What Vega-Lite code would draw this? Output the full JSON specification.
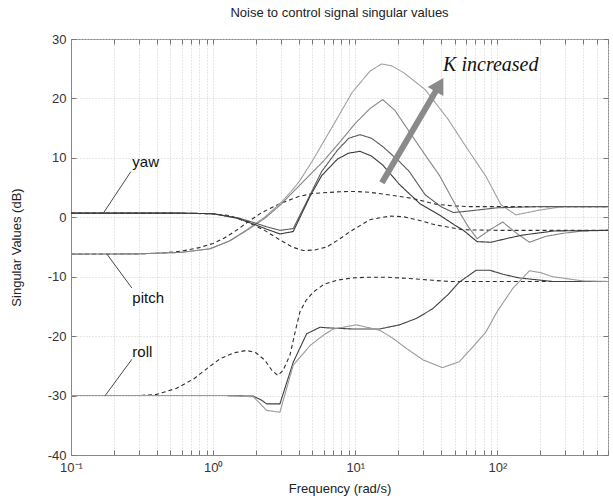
{
  "$schema": "https://vega.github.io/schema/vega-lite/v6.json",
  "width": 537,
  "height": 416,
  "autosize": "none",
  "padding": {"left": 71, "top": 39, "right": 5, "bottom": 46},
  "background": "white",
  "title": {"text": "Noise to control signal singular values", "font": "Liberation Sans", "fontSize": 13, "fontWeight": "normal", "color": "#222", "offset": 13, "anchor": "middle"},
  "config": {
    "view": {"stroke": "#888"},
    "axis": {"labelFont": "Liberation Sans", "titleFont": "Liberation Sans", "labelFontSize": 13, "titleFontSize": 13, "titleFontWeight": "normal", "labelColor": "#333", "titleColor": "#222", "domainColor": "#888", "tickColor": "#777", "gridColor": "#cfcfcf", "gridDash": [1, 2], "gridWidth": 1}
  },
  "resolve": {"axis": {"x": "independent", "y": "independent"}},
  "datasets": {
    "curves": [
      {"c":"D1","f":0.1,"db":-6.2},{"c":"D1","f":0.2,"db":-6.2},{"c":"D1","f":0.3,"db":-6.15},{"c":"D1","f":0.42,"db":-6.05},{"c":"D1","f":0.6,"db":-5.7},{"c":"D1","f":0.8,"db":-5.1},{"c":"D1","f":1,"db":-4.4},{"c":"D1","f":1.2,"db":-3.5},{"c":"D1","f":1.5,"db":-2.0},{"c":"D1","f":1.75,"db":-0.8},{"c":"D1","f":2.2,"db":0.8},{"c":"D1","f":2.95,"db":2.3},{"c":"D1","f":4,"db":3.5},{"c":"D1","f":5,"db":4.0},{"c":"D1","f":7.8,"db":4.3},{"c":"D1","f":10,"db":4.35},{"c":"D1","f":12.7,"db":4.2},{"c":"D1","f":17,"db":3.8},{"c":"D1","f":25,"db":3.2},{"c":"D1","f":37,"db":2.2},{"c":"D1","f":50,"db":1.9},{"c":"D1","f":64,"db":1.8},{"c":"D1","f":100,"db":1.8},{"c":"D1","f":600,"db":1.8},
      {"c":"D2","f":0.1,"db":0.7},{"c":"D2","f":0.5,"db":0.7},{"c":"D2","f":0.95,"db":0.6},{"c":"D2","f":1.3,"db":0.3},{"c":"D2","f":1.72,"db":-0.75},{"c":"D2","f":2.3,"db":-2.2},{"c":"D2","f":2.95,"db":-3.8},{"c":"D2","f":3.6,"db":-5.0},{"c":"D2","f":4.3,"db":-5.6},{"c":"D2","f":5.2,"db":-5.5},{"c":"D2","f":6.3,"db":-5.0},{"c":"D2","f":7.7,"db":-3.7},{"c":"D2","f":9.2,"db":-2.4},{"c":"D2","f":12.7,"db":-0.4},{"c":"D2","f":17.5,"db":0.2},{"c":"D2","f":21.7,"db":0.1},{"c":"D2","f":28,"db":-0.5},{"c":"D2","f":37,"db":-1.3},{"c":"D2","f":57,"db":-2.1},{"c":"D2","f":100,"db":-2.2},{"c":"D2","f":600,"db":-2.2},
      {"c":"D3","f":0.1,"db":-30},{"c":"D3","f":0.3,"db":-30},{"c":"D3","f":0.4,"db":-29.8},{"c":"D3","f":0.55,"db":-28.8},{"c":"D3","f":0.73,"db":-27.2},{"c":"D3","f":0.9,"db":-25.5},{"c":"D3","f":1.12,"db":-23.8},{"c":"D3","f":1.4,"db":-22.8},{"c":"D3","f":1.72,"db":-22.4},{"c":"D3","f":2.0,"db":-22.8},{"c":"D3","f":2.3,"db":-24.0},{"c":"D3","f":2.6,"db":-25.8},{"c":"D3","f":2.85,"db":-26.6},{"c":"D3","f":3.1,"db":-25.8},{"c":"D3","f":3.47,"db":-23.2},{"c":"D3","f":3.8,"db":-19},{"c":"D3","f":4.08,"db":-15.9},{"c":"D3","f":4.5,"db":-14},{"c":"D3","f":5.05,"db":-12.6},{"c":"D3","f":6,"db":-11.3},{"c":"D3","f":7.4,"db":-10.6},{"c":"D3","f":9.5,"db":-10.2},{"c":"D3","f":12,"db":-10.1},{"c":"D3","f":17,"db":-10.1},{"c":"D3","f":24,"db":-10.3},{"c":"D3","f":35,"db":-10.6},{"c":"D3","f":46,"db":-10.8},{"c":"D3","f":600,"db":-10.8},
      {"c":"R1","f":0.1,"db":-30},{"c":"R1","f":1.25,"db":-30},{"c":"R1","f":1.92,"db":-30.1},{"c":"R1","f":2.2,"db":-30.8},{"c":"R1","f":2.38,"db":-31.4},{"c":"R1","f":2.95,"db":-31.4},{"c":"R1","f":3.66,"db":-24.4},{"c":"R1","f":4.55,"db":-19.6},{"c":"R1","f":5.65,"db":-18.5},{"c":"R1","f":6.3,"db":-18.6},{"c":"R1","f":9.6,"db":-18.8},{"c":"R1","f":14.8,"db":-18.8},{"c":"R1","f":20.5,"db":-18.1},{"c":"R1","f":27,"db":-17},{"c":"R1","f":35,"db":-15.4},{"c":"R1","f":45,"db":-13},{"c":"R1","f":54,"db":-10.9},{"c":"R1","f":71,"db":-8.9},{"c":"R1","f":88,"db":-8.9},{"c":"R1","f":110,"db":-9.6},{"c":"R1","f":142,"db":-10.2},{"c":"R1","f":244,"db":-10.8},{"c":"R1","f":600,"db":-10.8},
      {"c":"R2","f":0.1,"db":-30},{"c":"R2","f":1.25,"db":-30},{"c":"R2","f":1.92,"db":-30.2},{"c":"R2","f":2.38,"db":-32.5},{"c":"R2","f":2.95,"db":-32.8},{"c":"R2","f":3.66,"db":-24.9},{"c":"R2","f":4.8,"db":-21.6},{"c":"R2","f":6,"db":-19.8},{"c":"R2","f":7,"db":-18.8},{"c":"R2","f":10.2,"db":-18.1},{"c":"R2","f":14.8,"db":-19.0},{"c":"R2","f":18,"db":-20.2},{"c":"R2","f":23,"db":-22.1},{"c":"R2","f":30,"db":-24},{"c":"R2","f":41,"db":-25.3},{"c":"R2","f":54,"db":-24.3},{"c":"R2","f":66,"db":-22},{"c":"R2","f":83,"db":-19.3},{"c":"R2","f":100,"db":-15.8},{"c":"R2","f":128,"db":-12.0},{"c":"R2","f":168,"db":-9.0},{"c":"R2","f":200,"db":-9.3},{"c":"R2","f":245,"db":-10.0},{"c":"R2","f":398,"db":-10.7},{"c":"R2","f":600,"db":-10.8},
      {"c":"K4","f":0.1,"db":-6.2},{"c":"K4","f":0.3,"db":-6.15},{"c":"K4","f":0.6,"db":-5.9},{"c":"K4","f":0.95,"db":-5.3},{"c":"K4","f":1.3,"db":-4.0},{"c":"K4","f":1.7,"db":-2.2},{"c":"K4","f":2.3,"db":0},{"c":"K4","f":2.95,"db":2.3},{"c":"K4","f":3.5,"db":4.2},{"c":"K4","f":4.03,"db":6},{"c":"K4","f":5,"db":9.5},{"c":"K4","f":7,"db":15.5},{"c":"K4","f":9.5,"db":21},{"c":"K4","f":12.7,"db":24.6},{"c":"K4","f":15.3,"db":25.8},{"c":"K4","f":18,"db":25.5},{"c":"K4","f":22,"db":24.3},{"c":"K4","f":31,"db":21.5},{"c":"K4","f":45,"db":16.5},{"c":"K4","f":60,"db":11.9},{"c":"K4","f":83,"db":6.9},{"c":"K4","f":106,"db":2.1},{"c":"K4","f":135,"db":0.4},{"c":"K4","f":197,"db":1.2},{"c":"K4","f":289,"db":1.8},{"c":"K4","f":600,"db":1.8},
      {"c":"K3","f":0.1,"db":-6.2},{"c":"K3","f":0.3,"db":-6.15},{"c":"K3","f":0.6,"db":-5.9},{"c":"K3","f":0.95,"db":-5.3},{"c":"K3","f":1.3,"db":-4.0},{"c":"K3","f":1.7,"db":-2.3},{"c":"K3","f":2.3,"db":-0.2},{"c":"K3","f":2.95,"db":2.0},{"c":"K3","f":4.3,"db":6},{"c":"K3","f":6,"db":9.5},{"c":"K3","f":8,"db":13},{"c":"K3","f":10,"db":15.8},{"c":"K3","f":12.7,"db":18.3},{"c":"K3","f":15.6,"db":19.8},{"c":"K3","f":19,"db":18},{"c":"K3","f":24,"db":14.4},{"c":"K3","f":31,"db":10.5},{"c":"K3","f":39,"db":7.1},{"c":"K3","f":54,"db":0.9},{"c":"K3","f":62,"db":-1.5},{"c":"K3","f":72,"db":-3.6},{"c":"K3","f":90,"db":-2.0},{"c":"K3","f":109,"db":-0.8},{"c":"K3","f":135,"db":-2.6},{"c":"K3","f":168,"db":-4.2},{"c":"K3","f":220,"db":-3.2},{"c":"K3","f":289,"db":-2.7},{"c":"K3","f":400,"db":-2.3},{"c":"K3","f":600,"db":-2.2},
      {"c":"K2","f":0.1,"db":0.7},{"c":"K2","f":0.6,"db":0.7},{"c":"K2","f":1.0,"db":0.6},{"c":"K2","f":1.5,"db":-0.1},{"c":"K2","f":2.0,"db":-1.0},{"c":"K2","f":2.38,"db":-1.6},{"c":"K2","f":2.95,"db":-2.2},{"c":"K2","f":3.66,"db":-1.9},{"c":"K2","f":4.55,"db":2.6},{"c":"K2","f":5.8,"db":7.7},{"c":"K2","f":7.5,"db":11.3},{"c":"K2","f":9,"db":13.3},{"c":"K2","f":10.8,"db":13.9},{"c":"K2","f":13,"db":13.3},{"c":"K2","f":15.6,"db":11.9},{"c":"K2","f":20,"db":9.6},{"c":"K2","f":24,"db":7.7},{"c":"K2","f":31,"db":3.8},{"c":"K2","f":40,"db":1.8},{"c":"K2","f":49,"db":0.8},{"c":"K2","f":60,"db":1.0},{"c":"K2","f":100,"db":1.6},{"c":"K2","f":200,"db":1.8},{"c":"K2","f":600,"db":1.8},
      {"c":"K1","f":0.1,"db":0.7},{"c":"K1","f":0.6,"db":0.7},{"c":"K1","f":1.0,"db":0.6},{"c":"K1","f":1.5,"db":-0.2},{"c":"K1","f":2.0,"db":-1.3},{"c":"K1","f":2.38,"db":-2.0},{"c":"K1","f":2.95,"db":-2.8},{"c":"K1","f":3.66,"db":-2.4},{"c":"K1","f":4.8,"db":3.5},{"c":"K1","f":5.8,"db":7.0},{"c":"K1","f":7.5,"db":9.8},{"c":"K1","f":9,"db":10.8},{"c":"K1","f":10.8,"db":11.1},{"c":"K1","f":13,"db":10.3},{"c":"K1","f":15.6,"db":8.8},{"c":"K1","f":20.5,"db":5.5},{"c":"K1","f":28.5,"db":2.3},{"c":"K1","f":39,"db":0.4},{"c":"K1","f":50,"db":-1.3},{"c":"K1","f":57,"db":-2.1},{"c":"K1","f":72,"db":-4.1},{"c":"K1","f":90,"db":-4.2},{"c":"K1","f":120,"db":-3.5},{"c":"K1","f":150,"db":-3.0},{"c":"K1","f":250,"db":-2.3},{"c":"K1","f":600,"db":-2.2}
    ],
    "leaders": [
      {"lab":"yaw","f":0.169,"db":0.7},{"lab":"yaw","f":0.264,"db":7.7},
      {"lab":"pitch","f":0.179,"db":-6.2},{"lab":"pitch","f":0.268,"db":-11.9},
      {"lab":"roll","f":0.174,"db":-30},{"lab":"roll","f":0.268,"db":-23.9}
    ],
    "labels": [
      {"lab":"yaw","f":0.27,"db":8.4},
      {"lab":"pitch","f":0.27,"db":-14.4},
      {"lab":"roll","f":0.27,"db":-23.5}
    ],
    "arrow": [{"f1":15.4,"db1":5.8,"f2":37.6,"db2":21.6,"fh":39.1,"dbh":22.3}],
    "note": [{"txt":"K increased","f":41.5,"db":24.6}]
  },
  "layer": [
    {
      "data": {"name": "curves"},
      "mark": {"type": "line", "strokeWidth": 1.1, "interpolate": "linear"},
      "encoding": {
        "x": {"field": "f", "type": "quantitative",
          "scale": {"type": "log", "domain": [0.1, 600], "nice": false},
          "axis": {"orient": "bottom", "values": [0.1,0.2,0.3,0.4,0.5,0.6,0.7,0.8,0.9,1,2,3,4,5,6,7,8,9,10,20,30,40,50,60,70,80,90,100,200,300,400,500,600],
            "labelExpr": "datum.value == 0.1 ? '10⁻¹' : datum.value == 1 ? '10⁰' : datum.value == 10 ? '10¹' : datum.value == 100 ? '10²' : ''",
            "grid": true, "tickSize": -5, "labelPadding": 11, "labelFlush": false, "labelOverlap": false,
            "title": "Frequency (rad/s)", "titlePadding": 8}},
        "y": {"field": "db", "type": "quantitative",
          "scale": {"domain": [-40, 30], "nice": false},
          "axis": {"orient": "left", "values": [-40,-30,-20,-10,0,10,20,30], "grid": true, "tickSize": -5, "labelPadding": 10,
            "labelExpr": "replace(datum.label, '−', '-')",
            "title": "Singular Values (dB)", "titlePadding": 24}},
        "detail": {"field": "c"},
        "color": {"field": "c", "type": "nominal", "legend": null,
          "scale": {"domain": ["D1","D2","D3","K1","K2","K3","K4","R1","R2"],
            "range": ["#2e2e2e","#2e2e2e","#2e2e2e","#3a3a3a","#5a5a5a","#858585","#a0a0a0","#404040","#9a9a9a"]}},
        "strokeDash": {"field": "c", "type": "nominal", "legend": null,
          "scale": {"domain": ["D1","D2","D3","K1","K2","K3","K4","R1","R2"],
            "range": [[4,3],[4,3],[4,3],[1,0],[1,0],[1,0],[1,0],[1,0],[1,0]]}}
      }
    },
    {
      "data": {"name": "leaders"},
      "mark": {"type": "line", "color": "#333", "strokeWidth": 0.9},
      "encoding": {
        "x": {"field": "f", "type": "quantitative", "axis": {"orient": "top", "values": [0.1,0.2,0.3,0.4,0.5,0.6,0.7,0.8,0.9,1,2,3,4,5,6,7,8,9,10,20,30,40,50,60,70,80,90,100,200,300,400,500,600], "labels": false, "grid": false, "tickSize": -5, "title": null, "domain": false}},
        "y": {"field": "db", "type": "quantitative", "axis": {"orient": "right", "values": [-40,-30,-20,-10,0,10,20,30], "labels": false, "grid": false, "tickSize": -5, "title": null, "domain": false}},
        "detail": {"field": "lab"}
      }
    },
    {
      "data": {"name": "labels"},
      "mark": {"type": "text", "font": "Liberation Sans", "fontSize": 15, "align": "left", "baseline": "alphabetic", "color": "#111"},
      "encoding": {
        "x": {"field": "f", "type": "quantitative", "axis": null},
        "y": {"field": "db", "type": "quantitative", "axis": null},
        "text": {"field": "lab"}
      }
    },
    {
      "data": {"name": "arrow"},
      "mark": {"type": "rule", "color": "#8a8a8a", "strokeWidth": 6},
      "encoding": {
        "x": {"field": "f1", "type": "quantitative", "axis": null},
        "y": {"field": "db1", "type": "quantitative", "axis": null},
        "x2": {"field": "f2"},
        "y2": {"field": "db2"}
      }
    },
    {
      "data": {"name": "arrow"},
      "mark": {"type": "point", "shape": "triangle-up", "filled": true, "color": "#8a8a8a", "opacity": 1, "size": 330, "angle": 30},
      "encoding": {
        "x": {"field": "fh", "type": "quantitative", "axis": null},
        "y": {"field": "dbh", "type": "quantitative", "axis": null}
      }
    },
    {
      "data": {"name": "note"},
      "mark": {"type": "text", "font": "Liberation Serif", "fontStyle": "italic", "fontSize": 20, "align": "left", "baseline": "alphabetic", "color": "#111"},
      "encoding": {
        "x": {"field": "f", "type": "quantitative", "axis": null},
        "y": {"field": "db", "type": "quantitative", "axis": null},
        "text": {"field": "txt"}
      }
    }
  ]
}
